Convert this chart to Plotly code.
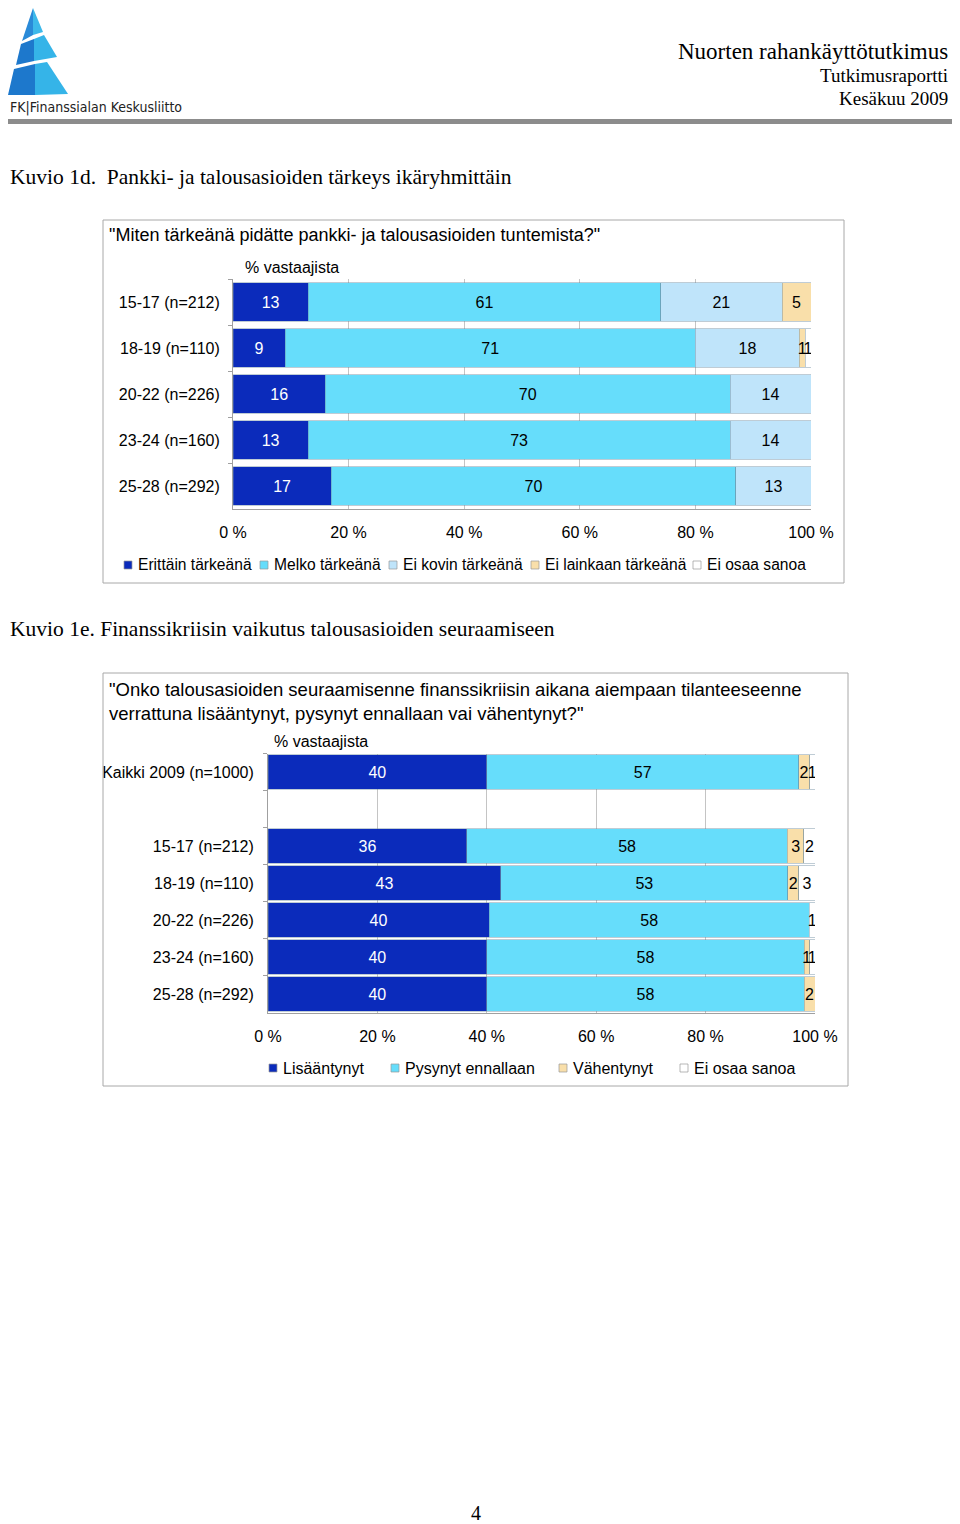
import plotly.graph_objects as go

W, H = 960, 1524
OX, OY = 8, 8  # page body offset compensation

# ---------------- data ----------------
groups1 = ["15-17 (n=212)", "18-19 (n=110)", "20-22 (n=226)", "23-24 (n=160)", "25-28 (n=292)"]
series1_names = ["Erittäin tärkeänä", "Melko tärkeänä", "Ei kovin tärkeänä",
                 "Ei lainkaan tärkeänä", "Ei osaa sanoa"]
erittain = [13, 9, 16, 13, 17]
melko = [61, 71, 70, 73, 70]
ei_kovin = [21, 18, 14, 14, 13]
ei_lainkaan = [5, 1, 0, 0, 0]
ei_osaa1 = [0, 1, 0, 0, 0]

groups2 = ["Kaikki 2009 (n=1000)", "15-17 (n=212)", "18-19 (n=110)",
           "20-22 (n=226)", "23-24 (n=160)", "25-28 (n=292)"]
series2_names = ["Lisääntynyt", "Pysynyt ennallaan", "Vähentynyt", "Ei osaa sanoa"]
lisaantynyt = [40, 36, 43, 40, 40, 40]
pysynyt = [57, 58, 53, 58, 58, 58]
vahentynyt = [2, 3, 2, 0, 1, 2]
ei_osaa2 = [1, 2, 3, 1, 1, 0]

tick_vals = [0, 20, 40, 60, 80, 100]
tick_text = ["0 %", "20 %", "40 %", "60 %", "80 %", "100 %"]

# ---------------- styles ----------------
C_DARK = "#0b2bbb"
C_CYAN = "#66ddfb"
C_LIGHT = "#bfe4fa"
C_BEIGE = "#f9dfaa"
C_WHITE = "#ffffff"
SANS = "Liberation Sans, Arial, sans-serif"
SERIF = "Liberation Serif, Times New Roman, serif"
GRID = "#c4c4c4"
AXIS = "#a0a0a0"


def px(x):
    return max(x - OX, 0) / W


def py(y):
    return 1 - max(y - OY, 0) / H


fig = go.Figure()

series1 = [erittain, melko, ei_kovin, ei_lainkaan, ei_osaa1]
colors1 = [C_DARK, C_CYAN, C_LIGHT, C_BEIGE, C_WHITE]
for name, vals, col in zip(series1_names, series1, colors1):
    fig.add_trace(go.Bar(
        y=groups1, x=vals, name=name, orientation="h",
        marker=dict(color=col, line=dict(color="rgba(110,140,160,0.55)", width=0.8)),
        text=[str(v) if v else "" for v in vals],
        textposition="inside", insidetextanchor="middle", textangle=0,
        constraintext="none",
        textfont=dict(family=SANS, size=16, color="white" if col == C_DARK else "black"),
        width=0.83, xaxis="x", yaxis="y", showlegend=False, hoverinfo="skip",
    ))

series2 = [lisaantynyt, pysynyt, vahentynyt, ei_osaa2]
colors2 = [C_DARK, C_CYAN, C_BEIGE, C_WHITE]
for name, vals, col in zip(series2_names, series2, colors2):
    fig.add_trace(go.Bar(
        y=groups2, x=vals, name=name, orientation="h",
        marker=dict(color=col, line=dict(color="rgba(110,140,160,0.55)", width=0.8)),
        text=[str(v) if v else "" for v in vals],
        textposition="inside", insidetextanchor="middle", textangle=0,
        constraintext="none",
        textfont=dict(family=SANS, size=16, color="white" if col == C_DARK else "black"),
        width=0.92, xaxis="x2", yaxis="y2", showlegend=False, hoverinfo="skip",
    ))

cats2 = [groups2[0], " "] + groups2[1:]

xcommon = dict(range=[0, 100], tickvals=tick_vals, ticktext=tick_text, showgrid=True,
               gridcolor=GRID, gridwidth=1, showline=True, linecolor=AXIS, linewidth=1,
               ticks="", zeroline=False, tickfont=dict(family=SANS, size=16, color="black"),
               ticklabelstandoff=9, fixedrange=True, automargin=False)
ycommon = dict(showgrid=False, showline=True, linecolor=AXIS, linewidth=1, ticks="outside",
               ticklen=4, tickcolor=AXIS, tickson="boundaries",
               tickfont=dict(family=SANS, size=16, color="black"),
               fixedrange=True, automargin=False)

fig.update_layout(
    width=W, height=H, margin=dict(l=0, r=0, t=0, b=0, pad=0, autoexpand=False),
    paper_bgcolor="white", plot_bgcolor="white", showlegend=False,
    barmode="stack", barnorm="percent",
    uniformtext=dict(minsize=16, mode="show"),
    xaxis=dict(domain=[px(233), px(811)], anchor="y", **xcommon),
    yaxis=dict(domain=[py(509), py(279)], anchor="x", type="category",
               categoryorder="array", categoryarray=groups1,
               range=[len(groups1) - 0.5, -0.5], ticklabelstandoff=9, **ycommon),
    xaxis2=dict(domain=[px(268), px(815)], anchor="y2", **xcommon),
    yaxis2=dict(domain=[py(1012.5), py(753.5)], anchor="x2", type="category",
                categoryorder="array", categoryarray=cats2,
                range=[len(cats2) - 0.5, -0.5], ticklabelstandoff=10, **ycommon),
)

shapes = []
annotations = []


def text(x, y, s, size=16, family=SANS, anchor="left", color="black"):
    annotations.append(dict(x=px(x), y=py(y), xref="paper", yref="paper", text=s,
                            showarrow=False, xanchor=anchor, yanchor="middle",
                            font=dict(family=family, size=size, color=color)))


# ---------- header ----------
text(950, 51, "Nuorten rahankäyttötutkimus", 23, SERIF, "right")
text(950, 76, "Tutkimusraportti", 19, SERIF, "right")
text(950, 98, "Kesäkuu 2009", 19, SERIF, "right")
shapes.append(dict(type="rect", xref="paper", yref="paper", x0=px(0), x1=px(958),
                   y0=py(124), y1=py(119), fillcolor="#8c8c8c", line=dict(width=0)))


def poly(points, color):
    d = "M " + " L ".join(f"{px(x)},{py(y)}" for x, y in points) + " Z"
    shapes.append(dict(type="path", xref="paper", yref="paper", path=d,
                       fillcolor=color, line=dict(width=0)))


# logo tower
poly([(33, 2), (33, 35), (22, 41)], "#2a8ad8")
poly([(33, 2), (43, 32), (33, 35)], "#3db9ea")
poly([(21, 44), (34, 39), (34, 61), (16, 65)], "#1d78cc")
poly([(34, 39), (44, 35), (57, 57), (34, 61)], "#35b4e8")
poly([(14, 69), (35, 64), (35, 95), (8, 95)], "#1d78cc")
poly([(35, 64), (47, 62), (68, 94), (35, 95)], "#35b4e8")
text(3, 108, "FK|Finanssialan Keskusliitto", 14, "DejaVu Sans Condensed, sans-serif", "left", "#222")

# ---------- section titles ----------
text(3, 177, "Kuvio 1d.  Pankki- ja talousasioiden tärkeys ikäryhmittäin", 21.5, SERIF)
text(3, 629, "Kuvio 1e. Finanssikriisin vaikutus talousasioiden seuraamiseen", 21.5, SERIF)

# ---------- chart frames ----------
shapes.append(dict(type="rect", xref="paper", yref="paper", x0=px(103), x1=px(844),
                   y0=py(583), y1=py(220), line=dict(color="#a8a8a8", width=1)))
shapes.append(dict(type="rect", xref="paper", yref="paper", x0=px(103), x1=px(848),
                   y0=py(1086), y1=py(673), line=dict(color="#a8a8a8", width=1)))

# chart 1 texts
text(107, 235, "\"Miten tärkeänä pidätte pankki- ja talousasioiden tuntemista?\"", 18)
text(243, 267, "% vastaajista", 16)

# chart 2 texts
text(107, 689, "\"Onko talousasioiden seuraamisenne finanssikriisin aikana aiempaan tilanteeseenne", 18.5)
text(107, 713, "verrattuna lisääntynyt, pysynyt ennallaan vai vähentynyt?\"", 18.5)
text(272, 742, "% vastaajista", 16)

# ---------- legends ----------
def legend_item(sq_x, text_x, y, color, label, size):
    shapes.append(dict(type="rect", xref="paper", yref="paper",
                       x0=px(sq_x), x1=px(sq_x + 8), y0=py(y + 4), y1=py(y - 4),
                       fillcolor=color, line=dict(color="#9a9a9a", width=0.7)))
    text(text_x, y, label, size)


leg1_sq = [124, 260, 389, 531, 693]
leg1_tx = [136, 272, 401, 543, 705]
for sx, tx, col, lab in zip(leg1_sq, leg1_tx, colors1, series1_names):
    legend_item(sx, tx, 565, col, lab, 15.6)

leg2_sq = [269, 391, 559, 680]
leg2_tx = [281, 403, 571, 692]
for sx, tx, col, lab in zip(leg2_sq, leg2_tx, colors2, series2_names):
    legend_item(sx, tx, 1068, col, lab, 16)

# page number
text(476, 1513, "4", 20, SERIF, "center")

fig.update_layout(shapes=shapes, annotations=annotations)
fig.write_html("out.html")
